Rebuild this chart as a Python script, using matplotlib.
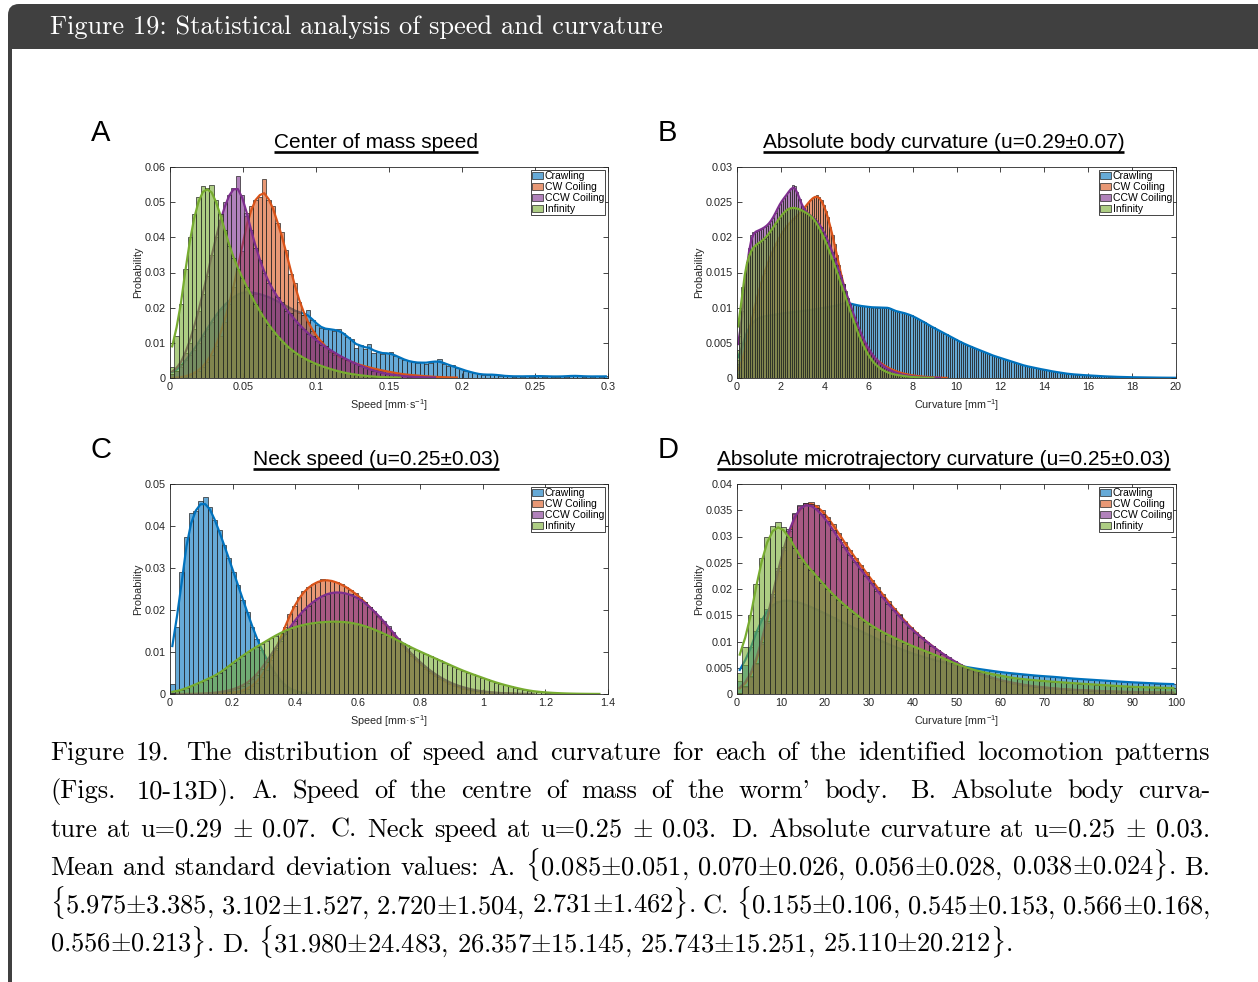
import numpy as np
import matplotlib
matplotlib.use("Agg")
import matplotlib.pyplot as plt
from matplotlib.patches import FancyBboxPatch, Rectangle
from matplotlib.colors import to_rgba
from matplotlib.ticker import FuncFormatter

plt.rcParams['font.family'] = ['Liberation Sans', 'DejaVu Sans']
plt.rcParams['mathtext.fontset'] = 'custom'
plt.rcParams['mathtext.rm'] = 'Liberation Sans'
plt.rcParams['mathtext.it'] = 'Liberation Sans:italic'

W, H = 1258, 982
names = ["Crawling", "CW Coiling", "CCW Coiling", "Infinity"]
colors = ["#0072BD", "#D95319", "#7E2F8E", "#77AC30"]

# all histogram heights are probabilities in percent, one value per bin from 0

# A: centre of mass speed, bin 0.003 mm/s
a_bin = 0.003
a_crawl = [0.10, 0.20, 0.30, 0.50, 0.65, 0.80, 1.00, 1.20, 1.40, 1.60,
           1.80, 1.95, 2.10, 2.20, 2.30, 2.40, 2.45, 2.45, 2.45, 2.40,
           2.40, 2.35, 2.30, 2.25, 2.20, 2.10, 2.05, 2.00, 1.90, 1.85,
           1.80, 1.92, 1.65, 1.50, 1.42, 1.38, 1.40, 1.35, 1.40, 1.28,
           1.18, 1.12, 0.85, 0.95, 0.82, 0.98, 0.72, 0.73, 0.68, 0.71,
           0.74, 0.62, 0.58, 0.52, 0.47, 0.45, 0.42, 0.46, 0.41, 0.44,
           0.47, 0.55, 0.40, 0.35, 0.37, 0.28, 0.25, 0.21, 0.17, 0.14,
           0.11, 0.09, 0.08, 0.12, 0.09, 0.07, 0.05, 0.06, 0.04, 0.05,
           0.04, 0.06, 0.04, 0.05, 0.07, 0.04, 0.05, 0.04, 0.04, 0.05,
           0.04, 0.06, 0.08, 0.05, 0.04, 0.05, 0.04, 0.05, 0.04, 0.05]
a_cw = [0, 0, 0.02, 0.04, 0.08, 0.13, 0.20, 0.30, 0.45, 0.65,
        0.90, 1.20, 1.60, 2.10, 2.60, 3.10, 3.60, 4.60, 4.90, 5.05,
        5.15, 5.65, 5.05, 4.90, 4.40, 4.15, 3.65, 2.95, 2.70, 2.15,
        1.80, 1.60, 1.35, 1.15, 1.05, 0.90, 0.75, 0.65, 0.62, 0.55,
        0.50, 0.45, 0.40, 0.37, 0.33, 0.30, 0.27, 0.24, 0.21, 0.19,
        0.17, 0.14, 0.12, 0.10, 0.09, 0.08, 0.07, 0.06, 0.05, 0.04,
        0.03, 0.03, 0.02, 0.02, 0.01, 0.01]
a_ccw = [0.10, 0.20, 0.40, 0.70, 1.00, 1.40, 1.90, 2.40, 2.90, 3.50,
         4.00, 4.50, 5.00, 5.20, 5.40, 5.75, 5.20, 4.70, 4.20, 3.70,
         3.35, 3.00, 2.70, 2.50, 2.30, 2.15, 1.90, 1.85, 1.65, 1.50,
         1.40, 1.25, 1.20, 1.05, 0.95, 0.90, 0.80, 0.72, 0.65, 0.58,
         0.52, 0.46, 0.40, 0.34, 0.30, 0.25, 0.21, 0.17, 0.14, 0.12,
         0.10, 0.08, 0.06, 0.05, 0.04, 0.03, 0.03, 0.02, 0.02, 0.01, 0.01]
a_inf = [0.30, 1.20, 2.10, 3.10, 4.00, 4.65, 5.15, 5.45, 5.40, 5.50,
         5.05, 4.65, 4.20, 3.75, 3.40, 3.10, 2.85, 2.60, 2.35, 2.10,
         1.90, 1.70, 1.50, 1.35, 1.20, 1.05, 0.93, 0.82, 0.72, 0.64,
         0.57, 0.50, 0.44, 0.39, 0.34, 0.30, 0.26, 0.22, 0.19, 0.16,
         0.13, 0.11, 0.09, 0.08, 0.06, 0.05, 0.04, 0.03, 0.03, 0.02,
         0.02, 0.01, 0.01]

# B: absolute body curvature, bin 0.1 mm^-1
b_bin = 0.1
b_crawl = [0.20, 0.35, 0.48, 0.58, 0.66, 0.72, 0.77, 0.80, 0.83, 0.85,
           0.86, 0.87, 0.88, 0.88, 0.89, 0.89, 0.90, 0.90, 0.91, 0.91,
           0.92, 0.92, 0.93, 0.93, 0.93, 0.94, 0.94, 0.94, 0.95, 0.95,
           0.95, 0.96, 0.96, 0.97, 0.97, 0.98, 0.98, 0.99, 0.99, 1.00,
           1.00, 1.01, 1.01, 1.02, 1.02, 1.03, 1.04, 1.05, 1.06, 1.07,
           1.07, 1.06, 1.05, 1.04, 1.04, 1.03, 1.02, 1.02, 1.02, 1.01,
           1.01, 1.00, 1.01, 1.00, 1.00, 1.01, 1.00, 0.99, 1.01, 1.00,
           0.97, 0.96, 0.95, 0.94, 0.94, 0.93, 0.92, 0.91, 0.90, 0.89,
           0.87, 0.86, 0.84, 0.82, 0.81, 0.79, 0.77, 0.75, 0.73, 0.72,
           0.70, 0.68, 0.67, 0.65, 0.63, 0.62, 0.60, 0.58, 0.57, 0.55,
           0.53, 0.52, 0.50, 0.49, 0.47, 0.46, 0.45, 0.43, 0.42, 0.41,
           0.40, 0.38, 0.37, 0.36, 0.35, 0.33, 0.32, 0.31, 0.30, 0.29,
           0.28, 0.27, 0.26, 0.25, 0.24, 0.23, 0.22, 0.21, 0.20, 0.19,
           0.18, 0.17, 0.165, 0.16, 0.15, 0.145, 0.14, 0.13, 0.125, 0.12,
           0.115, 0.11, 0.10, 0.095, 0.09, 0.085, 0.08, 0.075, 0.07, 0.065,
           0.06, 0.057, 0.054, 0.051, 0.048, 0.046, 0.044, 0.042, 0.04, 0.038,
           0.036, 0.034, 0.032, 0.03, 0.028, 0.026, 0.025, 0.023, 0.022, 0.02,
           0.019, 0.018, 0.017, 0.016, 0.015, 0.014, 0.013, 0.012, 0.012, 0.011,
           0.01, 0.01, 0.009, 0.009, 0.008, 0.008, 0.007, 0.007, 0.006, 0.006,
           0.006, 0.005, 0.005, 0.005, 0.004, 0.004, 0.004, 0.004, 0.003, 0.003]
b_cw = [0.05, 0.15, 0.25, 0.38, 0.52, 0.66, 0.80, 0.94, 1.07, 1.19,
        1.30, 1.40, 1.50, 1.59, 1.67, 1.75, 1.82, 1.89, 1.95, 2.01,
        2.06, 2.11, 2.15, 2.19, 2.22, 2.25, 2.28, 2.31, 2.34, 2.37,
        2.41, 2.45, 2.49, 2.53, 2.56, 2.58, 2.60, 2.57, 2.53, 2.46,
        2.38, 2.29, 2.15, 2.03, 1.90, 1.75, 1.60, 1.46, 1.33, 1.21,
        1.12, 1.01, 0.92, 0.83, 0.74, 0.66, 0.59, 0.52, 0.46, 0.41,
        0.37, 0.33, 0.29, 0.26, 0.24, 0.21, 0.19, 0.17, 0.15, 0.135,
        0.12, 0.11, 0.095, 0.085, 0.075, 0.065, 0.06, 0.05, 0.045, 0.04,
        0.035, 0.03, 0.027, 0.024, 0.02, 0.017, 0.014, 0.012, 0.01, 0.008,
        0.006, 0.005, 0.004, 0.003, 0.002, 0.001]
b_ccw = [0.25, 0.60, 0.95, 1.30, 1.60, 1.85, 2.04, 2.07, 2.08, 2.09,
         2.11, 2.12, 2.14, 2.16, 2.19, 2.23, 2.28, 2.34, 2.41, 2.48,
         2.52, 2.56, 2.60, 2.64, 2.69, 2.74, 2.73, 2.64, 2.55, 2.45,
         2.40, 2.36, 2.33, 2.31, 2.29, 2.26, 2.23, 2.19, 2.14, 2.08,
         2.02, 1.95, 1.87, 1.79, 1.70, 1.61, 1.52, 1.43, 1.33, 1.23,
         1.14, 1.05, 0.96, 0.87, 0.79, 0.71, 0.63, 0.56, 0.50, 0.44,
         0.39, 0.34, 0.30, 0.26, 0.23, 0.20, 0.17, 0.15, 0.13, 0.115,
         0.10, 0.085, 0.075, 0.065, 0.055, 0.045, 0.04, 0.035, 0.03, 0.025,
         0.02, 0.018, 0.015, 0.012, 0.01, 0.008, 0.006, 0.005, 0.004, 0.003,
         0.002, 0.002, 0.001]
b_inf = [0.40, 0.95, 1.30, 1.50, 1.65, 1.76, 1.82, 1.86, 1.89, 1.91,
         1.93, 1.95, 1.98, 2.01, 2.05, 2.09, 2.14, 2.19, 2.24, 2.28,
         2.32, 2.36, 2.39, 2.41, 2.42, 2.42, 2.42, 2.41, 2.40, 2.38,
         2.37, 2.35, 2.33, 2.31, 2.28, 2.24, 2.19, 2.13, 2.07, 2.00,
         1.93, 1.85, 1.77, 1.69, 1.60, 1.51, 1.42, 1.33, 1.24, 1.14,
         1.05, 0.96, 0.87, 0.78, 0.69, 0.61, 0.53, 0.46, 0.40, 0.34,
         0.29, 0.25, 0.21, 0.18, 0.155, 0.13, 0.11, 0.095, 0.08, 0.07,
         0.06, 0.05, 0.045, 0.04, 0.035, 0.03, 0.025, 0.02, 0.018, 0.015,
         0.012, 0.01, 0.008, 0.006, 0.005, 0.004, 0.003, 0.002, 0.002, 0.001]

# C: neck speed, bin 0.015 mm/s
c_bin = 0.015
c_crawl = [0.25, 1.60, 2.90, 3.75, 4.30, 4.35, 4.60, 4.70, 4.45, 4.15,
           3.90, 3.55, 3.25, 2.90, 2.60, 2.25, 1.95, 1.60, 1.30, 1.05,
           0.85, 0.65, 0.45, 0.30, 0.20, 0.12, 0.07, 0.04, 0.02, 0.01]
c_cw = [0, 0, 0, 0, 0, 0, 0, 0, 0, 0, 0.01, 0.01, 0.02,
        0.03, 0.05, 0.08, 0.12, 0.18, 0.27, 0.40, 0.58, 0.80, 1.05,
        1.30, 1.60, 1.90, 2.10, 2.30, 2.45, 2.55, 2.62, 2.67, 2.74,
        2.72, 2.70, 2.66, 2.62, 2.55, 2.48, 2.40, 2.30, 2.20, 2.08,
        1.96, 1.84, 1.70, 1.57, 1.43, 1.30, 1.16, 1.03, 0.91, 0.80,
        0.70, 0.60, 0.51, 0.43, 0.36, 0.30, 0.25, 0.20, 0.16, 0.13,
        0.10, 0.08, 0.06, 0.05, 0.04, 0.03, 0.02, 0.015, 0.01, 0.007, 0.005]
c_ccw = [0, 0, 0, 0, 0, 0, 0.01, 0.01, 0.02, 0.03, 0.04, 0.06, 0.08,
         0.11, 0.15, 0.20, 0.26, 0.35,
         0.45, 0.60, 0.76, 0.93, 1.10, 1.27, 1.42, 1.57, 1.74, 1.88,
         2.00, 2.10, 2.20, 2.28, 2.34, 2.39, 2.42, 2.43, 2.42, 2.40,
         2.37, 2.32, 2.26, 2.18, 2.08, 1.97, 1.86, 1.74, 1.61, 1.47,
         1.33, 1.20, 1.07, 0.95, 0.84, 0.74, 0.64, 0.55, 0.47, 0.40,
         0.34, 0.28, 0.23, 0.19, 0.16, 0.13, 0.10, 0.08, 0.065, 0.05,
         0.04, 0.03, 0.022, 0.016, 0.012, 0.008, 0.006, 0.004, 0.003, 0.002]
c_inf = [0.03, 0.06, 0.10, 0.14, 0.18, 0.23, 0.28, 0.33, 0.38, 0.43,
         0.49, 0.57, 0.66, 0.75, 0.83, 0.91, 0.99, 1.07, 1.12, 1.19,
         1.26, 1.33, 1.39, 1.45, 1.51, 1.55, 1.59, 1.62, 1.65, 1.67,
         1.69, 1.70, 1.71, 1.72, 1.72, 1.73, 1.72, 1.71, 1.70, 1.68,
         1.65, 1.62, 1.58, 1.54, 1.49, 1.44, 1.39, 1.34, 1.28, 1.22,
         1.16, 1.10, 1.05, 1.00, 0.95, 0.90, 0.85, 0.80, 0.75, 0.70,
         0.65, 0.60, 0.55, 0.51, 0.47, 0.43, 0.39, 0.35, 0.31, 0.27,
         0.24, 0.21, 0.18, 0.15, 0.13, 0.10, 0.08, 0.065, 0.052, 0.042,
         0.034, 0.027, 0.021, 0.016, 0.012, 0.009, 0.007, 0.005, 0.004, 0.003,
         0.002, 0.001]

# D: absolute microtrajectory curvature, bin 1.25 mm^-1
d_bin = 1.25
d_crawl = [0.25, 0.55, 0.90, 1.20, 1.45, 1.62, 1.72, 1.77, 1.79, 1.79,
           1.77, 1.74, 1.70, 1.66, 1.61, 1.56, 1.51, 1.46, 1.40, 1.35,
           1.30, 1.25, 1.20, 1.15, 1.10, 1.05, 1.00, 0.95, 0.91, 0.87,
           0.83, 0.79, 0.75, 0.72, 0.69, 0.66, 0.63, 0.61, 0.58, 0.56,
           0.54, 0.52, 0.50, 0.485, 0.47, 0.455, 0.44, 0.425, 0.41, 0.40,
           0.39, 0.38, 0.37, 0.36, 0.35, 0.34, 0.335, 0.33, 0.32, 0.31,
           0.30, 0.29, 0.285, 0.28, 0.27, 0.265, 0.26, 0.25, 0.245, 0.24,
           0.23, 0.225, 0.22, 0.215, 0.21, 0.205, 0.20, 0.195, 0.19, 0.185]
d_cw = [0.02, 0.13, 0.32, 0.57, 0.95, 1.35, 1.85, 2.35, 2.75, 3.10,
        3.42, 3.58, 3.64, 3.66, 3.60, 3.50, 3.38, 3.23, 3.07, 2.90,
        2.74, 2.60, 2.46, 2.32, 2.18, 2.04, 1.90, 1.77, 1.64, 1.53,
        1.40, 1.28, 1.18, 1.09, 1.00, 0.92, 0.84, 0.76, 0.69, 0.62,
        0.56, 0.50, 0.45, 0.41, 0.37, 0.33, 0.30, 0.27, 0.24, 0.22,
        0.20, 0.18, 0.16, 0.15, 0.135, 0.125, 0.115, 0.105, 0.095, 0.088,
        0.082, 0.076, 0.07, 0.065, 0.06, 0.056, 0.052, 0.048, 0.045, 0.042,
        0.039, 0.036, 0.034, 0.032, 0.03, 0.028, 0.026, 0.025, 0.023, 0.022]
d_ccw = [0.02, 0.15, 0.35, 0.60, 1.00, 1.40, 1.90, 2.40, 2.80, 3.15,
         3.45, 3.60, 3.64, 3.62, 3.54, 3.42, 3.29, 3.13, 2.96, 2.80,
         2.64, 2.52, 2.38, 2.25, 2.11, 1.97, 1.84, 1.72, 1.60, 1.50,
         1.37, 1.26, 1.17, 1.08, 1.00, 0.92, 0.84, 0.76, 0.70, 0.63,
         0.57, 0.51, 0.46, 0.42, 0.38, 0.34, 0.31, 0.28, 0.25, 0.23,
         0.21, 0.19, 0.17, 0.155, 0.14, 0.13, 0.12, 0.11, 0.10, 0.09,
         0.085, 0.08, 0.075, 0.07, 0.065, 0.06, 0.056, 0.052, 0.048, 0.045,
         0.042, 0.04, 0.037, 0.035, 0.033, 0.031, 0.029, 0.027, 0.025, 0.024]
d_inf = [0.40, 0.90, 1.50, 2.10, 2.60, 3.00, 3.20, 3.27, 3.18, 3.00,
         2.78, 2.60, 2.47, 2.36, 2.25, 2.12, 2.00, 1.89, 1.79, 1.70,
         1.62, 1.53, 1.45, 1.37, 1.30, 1.24, 1.18, 1.12, 1.08, 1.03,
         0.98, 0.93, 0.89, 0.85, 0.81, 0.77, 0.73, 0.68, 0.64, 0.59,
         0.55, 0.51, 0.48, 0.45, 0.42, 0.40, 0.38, 0.36, 0.34, 0.32,
         0.30, 0.29, 0.28, 0.27, 0.26, 0.25, 0.24, 0.235, 0.23, 0.22,
         0.21, 0.205, 0.20, 0.19, 0.185, 0.18, 0.17, 0.165, 0.16, 0.15,
         0.145, 0.14, 0.135, 0.13, 0.13, 0.125, 0.12, 0.12, 0.115, 0.11]

titles = ["Center of mass speed",
          "Absolute body curvature (u=0.29\u00b10.07)",
          "Neck speed (u=0.25\u00b10.03)",
          "Absolute microtrajectory curvature (u=0.25\u00b10.03)"]
speed_label = "Speed [mm\u00b7s$^{-1}$]"
curv_label = "Curvature [mm$^{-1}$]"

caption = [
    "Figure 19.  The distribution of speed and curvature for each of the identified locomotion patterns",
    "(Figs.  10-13D). A. Speed of the centre of mass of the worm' body.  B. Absolute body curva-",
    r"ture at u=0.29 $\pm$ 0.07.  C. Neck speed at u=0.25 $\pm$ 0.03.  D. Absolute curvature at u=0.25 $\pm$ 0.03.",
    r"Mean and standard deviation values: A. $\{$0.085$\pm$0.051, 0.070$\pm$0.026, 0.056$\pm$0.028, 0.038$\pm$0.024$\}$. B.",
    r"$\{$5.975$\pm$3.385, 3.102$\pm$1.527, 2.720$\pm$1.504, 2.731$\pm$1.462$\}$. C. $\{$0.155$\pm$0.106, 0.545$\pm$0.153, 0.566$\pm$0.168,",
    r"0.556$\pm$0.213$\}$. D. $\{$31.980$\pm$24.483, 26.357$\pm$15.145, 25.743$\pm$15.251, 25.110$\pm$20.212$\}$.",
]
CAP_FS = 19


def smooth(h):
    k = np.array([1, 2, 3, 2, 1.0])
    return np.convolve(h, k, mode='same') / np.convolve(np.ones_like(h), k, mode='same')


fig = plt.figure(figsize=(W / 100, H / 100), dpi=100)
bg = fig.add_axes([0, 0, 1, 1], zorder=-1)
bg.set_xlim(0, W)
bg.set_ylim(H, 0)
bg.axis('off')

# frame with dark header
bg.add_patch(FancyBboxPatch((8, 4), W + 60, H + 60, boxstyle='round,pad=0,rounding_size=11',
                            fc='#404040', ec='none'))
bg.add_patch(Rectangle((12, 49), W + 60, H + 60, fc='white', ec='none'))
bg.text(50, 34, "Figure 19: Statistical analysis of speed and curvature", color='white',
        family='cmr10', fontsize=CAP_FS, va='baseline')

panels = [
    dict(box=(170, 167, 608, 378), bw=a_bin, series=[a_crawl, a_cw, a_ccw, a_inf],
         xt=np.arange(0, 0.31, 0.05), yt=np.arange(0, 0.061, 0.01), xlabel=speed_label,
         title=titles[0], letter='A', ylx=-0.062),
    dict(box=(737, 167, 1176, 378), bw=b_bin, series=[b_crawl, b_cw, b_ccw, b_inf],
         xt=np.arange(0, 21, 2), yt=np.arange(0, 0.0301, 0.005), xlabel=curv_label,
         title=titles[1], letter='B', ylx=-0.075),
    dict(box=(170, 484, 608, 694), bw=c_bin, series=[c_crawl, c_cw, c_ccw, c_inf],
         xt=np.arange(0, 1.41, 0.2), yt=np.arange(0, 0.051, 0.01), xlabel=speed_label,
         title=titles[2], letter='C', ylx=-0.062),
    dict(box=(737, 484, 1176, 694), bw=d_bin, series=[d_crawl, d_cw, d_ccw, d_inf],
         xt=np.arange(0, 101, 10), yt=np.arange(0, 0.0401, 0.005), xlabel=curv_label,
         title=titles[3], letter='D', ylx=-0.075),
]

fmt = FuncFormatter(lambda v, p: f"{round(v, 6):g}")
title_texts = []
for p in panels:
    l, t, r, b = p['box']
    ax = fig.add_axes([l / W, 1 - b / H, (r - l) / W, (b - t) / H])
    handles = []
    for i, (vals, col) in enumerate(zip(p['series'], colors)):
        h = np.array(vals) / 100.0
        x = (np.arange(len(h)) + 0.5) * p['bw']
        # each series: its bars, then its fit line, later series stack on top
        bars = ax.bar(x, h, width=p['bw'], color=to_rgba(col, 0.6), edgecolor='#262626',
                      linewidth=0.5, zorder=1 + 2 * i)
        ax.plot(x, smooth(h), color=col, lw=1.6, zorder=2 + 2 * i)
        handles.append(bars)
    ax.set_xlim(p['xt'][0], p['xt'][-1])
    ax.set_ylim(p['yt'][0], p['yt'][-1])
    ax.set_xticks(p['xt'])
    ax.set_yticks(p['yt'])
    ax.xaxis.set_major_formatter(fmt)
    ax.yaxis.set_major_formatter(fmt)
    ax.tick_params(direction='in', length=3.5, width=0.6, colors='#262626', labelsize=7.8,
                   top=True, right=True, pad=3)
    for s in ax.spines.values():
        s.set_color('#262626')
        s.set_linewidth(0.6)
        s.set_zorder(12)
    ax.set_xlabel(p['xlabel'], fontsize=7.8, color='#262626')
    ax.set_ylabel("Probability", fontsize=7.8, color='#262626')
    ax.xaxis.set_label_coords(0.5, -0.09)
    ax.yaxis.set_label_coords(p['ylx'], 0.5)
    leg = ax.legend(handles, names, loc='upper right', fontsize=7.5, frameon=True, fancybox=False,
                    edgecolor='#262626', framealpha=1, borderpad=0.12, labelspacing=0.1,
                    handlelength=1.1, handleheight=0.7, handletextpad=0.15, borderaxespad=0.25)
    leg.set_zorder(20)
    leg.get_frame().set_linewidth(0.6)
    cx = (l + r) / 2 - 13
    tt = bg.text(cx, t - 19, p['title'], ha='center', va='baseline', fontsize=15)
    title_texts.append((tt, t - 15.5))
    bg.text(l - 79, t - 26, p['letter'], fontsize=21, va='baseline')

fig.canvas.draw()
rend = fig.canvas.get_renderer()
for tt, uy in title_texts:
    bb = tt.get_window_extent(rend)
    bg.plot([bb.x0, bb.x1], [uy, uy], color='black', lw=1.9, solid_capstyle='butt')

# justified caption
x0, x1 = 50, 1210
base0, step = 760, 38.4
for i, line in enumerate(caption):
    words, gaps, pending = [], [], 1.0
    for tok in line.split(' '):
        if tok == '':
            pending += 0.5
            continue
        if words:
            gaps.append(pending)
        words.append(tok)
        pending = 1.0
    y = base0 + i * step
    arts = [bg.text(0, y, w, family='cmr10', math_fontfamily='cm', fontsize=CAP_FS, va='baseline')
            for w in words]
    widths = [a.get_window_extent(rend).width for a in arts]
    if i < len(caption) - 1:
        unit = (x1 - x0 - sum(widths)) / sum(gaps)
    else:
        unit = CAP_FS * 100 / 72 * 0.333
    x = x0
    for k, (a, w) in enumerate(zip(arts, widths)):
        a.set_x(x)
        if k < len(gaps):
            x += w + unit * gaps[k]

fig.savefig('out.png', dpi=100)
